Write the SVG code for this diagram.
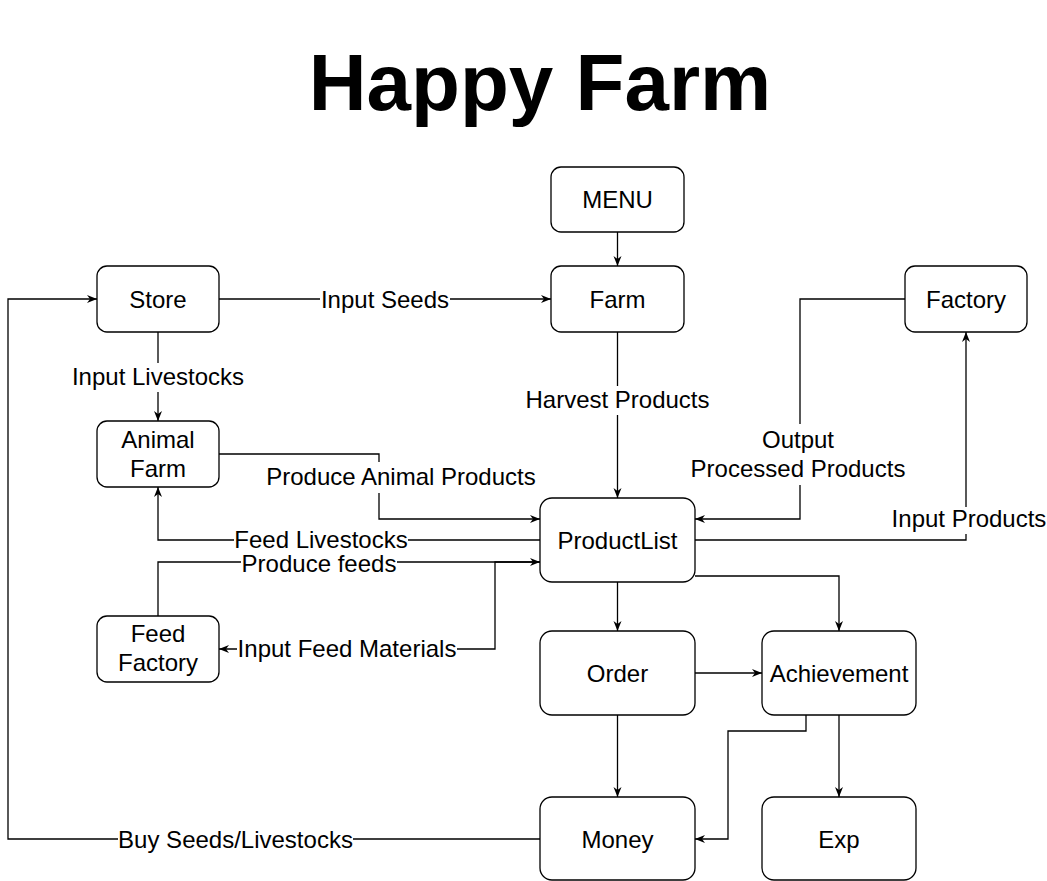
<svg xmlns="http://www.w3.org/2000/svg" width="1047" height="881" viewBox="0 0 1047 881">
<style>
.box{fill:#fff;stroke:#000;stroke-width:1.3}
.t{font-family:"Liberation Sans",Arial,sans-serif;font-size:24px;fill:#000;text-anchor:middle}
.ln{fill:none;stroke:#000;stroke-width:1.3}
.bg{fill:#fff}
</style>
<defs>
<marker id="ah" viewBox="0 0 10 10" refX="10" refY="5" markerWidth="10" markerHeight="10" markerUnits="userSpaceOnUse" orient="auto">
<path d="M0,1 L10,5 L0,9 L3,5 z" fill="#000"/>
</marker>
</defs>
<rect width="1047" height="881" fill="#fff"/>
<text x="540" y="109.5" font-family="Liberation Sans,Arial,sans-serif" font-size="80" font-weight="bold" text-anchor="middle">Happy Farm</text>

<g id="connectors">
<path class="ln" d="M617.5,232 V266" marker-end="url(#ah)"/>
<path class="ln" d="M219,299 H551" marker-end="url(#ah)"/>
<path class="ln" d="M158,332 V421" marker-end="url(#ah)"/>
<path class="ln" d="M617.5,332 V498" marker-end="url(#ah)"/>
<path class="ln" d="M219,454 H379 V519 H540" marker-end="url(#ah)"/>
<path class="ln" d="M540,540 H158 V487" marker-end="url(#ah)"/>
<path class="ln" d="M158,616 V562 H540" marker-end="url(#ah)"/>
<path class="ln" d="M540,562 H495 V649 H219" marker-end="url(#ah)"/>
<path class="ln" d="M905,299 H800 V519 H695" marker-end="url(#ah)"/>
<path class="ln" d="M695,540 H966 V332" marker-end="url(#ah)"/>
<path class="ln" d="M617.5,582 V631" marker-end="url(#ah)"/>
<path class="ln" d="M695,576 H839 V631" marker-end="url(#ah)"/>
<path class="ln" d="M695,673 H762" marker-end="url(#ah)"/>
<path class="ln" d="M617.5,715 V797" marker-end="url(#ah)"/>
<path class="ln" d="M839,715 V797" marker-end="url(#ah)"/>
<path class="ln" d="M806,715 V731 H728 V839 H695" marker-end="url(#ah)"/>
<path class="ln" d="M540,839 H8 V299 H97" marker-end="url(#ah)"/>

<rect class="bg" x="320" y="286" width="130" height="27"/>
<text class="t" x="385" y="308">Input Seeds</text>
<rect class="bg" x="72" y="363" width="172" height="29"/>
<text class="t" x="158" y="385">Input Livestocks</text>
<rect class="bg" x="525" y="386" width="185" height="29"/>
<text class="t" x="617.5" y="408">Harvest Products</text>
<rect class="bg" x="264" y="462" width="274" height="31"/>
<text class="t" x="401" y="485">Produce Animal Products</text>
<rect class="bg" x="234" y="528" width="174" height="24"/>
<text class="t" x="321" y="548">Feed Livestocks</text>
<rect class="bg" x="241" y="555" width="156" height="21"/>
<text class="t" x="319" y="572">Produce feeds</text>
<rect class="bg" x="237" y="636" width="220" height="27"/>
<text class="t" x="347" y="657">Input Feed Materials</text>
<rect class="bg" x="118" y="826" width="235" height="28"/>
<text class="t" x="235.5" y="848">Buy Seeds/Livestocks</text>
<rect class="bg" x="891" y="507" width="155" height="27"/>
<text class="t" x="969" y="527">Input Products</text>
<rect class="bg" x="690" y="424" width="216" height="61"/>
<text class="t" x="798" y="448">Output</text>
<text class="t" x="798" y="477">Processed Products</text>
</g>

<g id="menu"><rect class="box" x="551" y="167" width="133" height="65" rx="10"/><text class="t" x="617.5" y="208">MENU</text></g>
<g id="store"><rect class="box" x="97" y="266" width="122" height="66" rx="10"/><text class="t" x="158" y="308">Store</text></g>
<g id="farm"><rect class="box" x="551" y="266" width="133" height="66" rx="10"/><text class="t" x="617.5" y="308">Farm</text></g>
<g id="factory"><rect class="box" x="905" y="266" width="122" height="66" rx="10"/><text class="t" x="966" y="308">Factory</text></g>
<g id="animal-farm"><rect class="box" x="97" y="421" width="122" height="66" rx="10"/><text class="t" x="158" y="448">Animal</text><text class="t" x="158" y="477">Farm</text></g>
<g id="productlist"><rect class="box" x="540" y="498" width="155" height="84" rx="12"/><text class="t" x="617.5" y="548.5">ProductList</text></g>
<g id="feed-factory"><rect class="box" x="97" y="616" width="122" height="66" rx="10"/><text class="t" x="158" y="642">Feed</text><text class="t" x="158" y="671">Factory</text></g>
<g id="order"><rect class="box" x="540" y="631" width="155" height="84" rx="12"/><text class="t" x="617.5" y="681.5">Order</text></g>
<g id="achievement"><rect class="box" x="762" y="631" width="154" height="84" rx="12"/><text class="t" x="839" y="681.5">Achievement</text></g>
<g id="money"><rect class="box" x="540" y="797" width="155" height="83" rx="12"/><text class="t" x="617.5" y="847.5">Money</text></g>
<g id="exp"><rect class="box" x="762" y="797" width="154" height="83" rx="12"/><text class="t" x="839" y="847.5">Exp</text></g>
</svg>
